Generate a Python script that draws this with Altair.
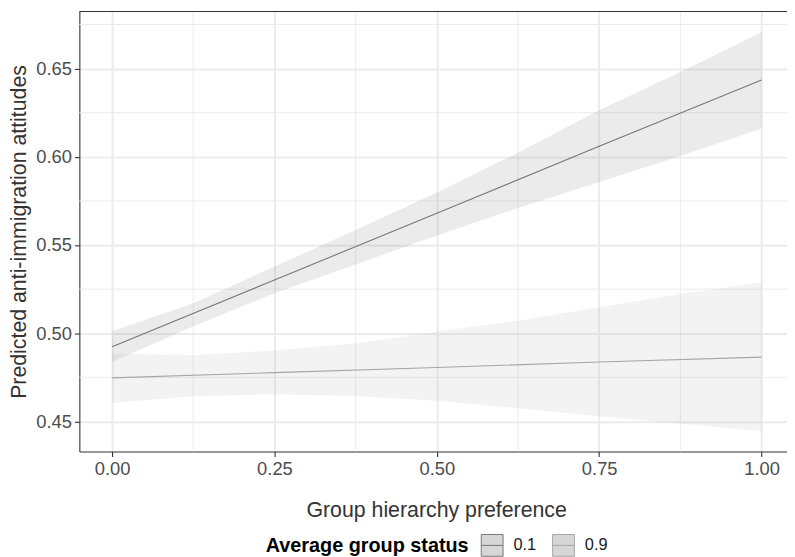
import altair as alt
import pandas as pd

# ---------------- data ----------------
status_levels = ["0.1", "0.9"]

# predicted lines (x = group hierarchy preference)
line_x = [0.0, 0.25, 0.5, 0.75, 1.0]
line_low_status = [0.4924, 0.5302, 0.5680, 0.6060, 0.6435]   # status 0.1
line_high_status = [0.4747, 0.4777, 0.4806, 0.4837, 0.4865]  # status 0.9

# confidence ribbons
band_x = [0.0, 0.125, 0.25, 0.375, 0.5, 0.625, 0.75, 0.875, 1.0]
band_low_status_lo = [0.4837, 0.5040, 0.5227, 0.5390, 0.5554, 0.5710, 0.5858, 0.6004, 0.6160]
band_low_status_hi = [0.5011, 0.5170, 0.5378, 0.5585, 0.5798, 0.6023, 0.6264, 0.6481, 0.6706]
band_high_status_lo = [0.4605, 0.4643, 0.4654, 0.4645, 0.4618, 0.4575, 0.4530, 0.4487, 0.4446]
band_high_status_hi = [0.4884, 0.4876, 0.4903, 0.4942, 0.5008, 0.5071, 0.5148, 0.5223, 0.5289]

x_major = [0.0, 0.25, 0.5, 0.75, 1.0]
x_minor = [0.125, 0.375, 0.625, 0.875]
y_major = [0.45, 0.50, 0.55, 0.60, 0.65]
y_minor = [0.475, 0.525, 0.575, 0.625, 0.675]

X_TITLE = "Group hierarchy preference"
Y_TITLE = "Predicted anti-immigration attitudes"
LEGEND_TITLE = "Average group status"

# ---------------- tables ----------------
lines_df = pd.DataFrame({
    "x": line_x * 2,
    "y": line_low_status + line_high_status,
    "status": [status_levels[0]] * len(line_x) + [status_levels[1]] * len(line_x),
})
band_low_df = pd.DataFrame({"x": band_x, "lo": band_low_status_lo, "hi": band_low_status_hi})
band_high_df = pd.DataFrame({"x": band_x, "lo": band_high_status_lo, "hi": band_high_status_hi})
xminor_df = pd.DataFrame({"v": x_minor})
yminor_df = pd.DataFrame({"v": y_minor})

W, H = 714, 444
FONT = "Liberation Sans"

xscale = alt.Scale(domain=[-0.0504, 1.0392], nice=False, zero=False)
yscale = alt.Scale(domain=[0.4330, 0.6824], nice=False, zero=False)

x_axis = alt.Axis(values=x_major, format=".2f", grid=True, labelFlush=False,
                  titleX=360, titleY=66, titleBaseline="alphabetic")
y_axis = alt.Axis(values=y_major, format=".2f", grid=True,
                  titleX=-54, titleY=222, titleAngle=270, titleAlign="center",
                  titleBaseline="alphabetic", labelPadding=3)

X = lambda f: alt.X(f, scale=xscale, axis=x_axis, title=X_TITLE)
Y = lambda f: alt.Y(f, scale=yscale, axis=y_axis, title=Y_TITLE)

minor_x = alt.Chart(xminor_df).mark_rule(color="#ebebeb", strokeWidth=1).encode(x=X("v:Q"))
minor_y = alt.Chart(yminor_df).mark_rule(color="#ebebeb", strokeWidth=1).encode(y=Y("v:Q"))

band_low = alt.Chart(band_low_df).mark_area(color="#808080", fillOpacity=0.157).encode(
    x=X("x:Q"), y=Y("lo:Q"), y2="hi:Q"
)
band_high = alt.Chart(band_high_df).mark_area(color="#b3b3b3", fillOpacity=0.157).encode(
    x=X("x:Q"), y=Y("lo:Q"), y2="hi:Q"
)

legend = alt.Legend(
    title=LEGEND_TITLE, orient="none", legendX=188, legendY=527, direction="horizontal",
    titleOrient="left", titlePadding=12, titleFont=FONT, titleFontSize=20,
    titleFontWeight="bold", titleColor="#000000", titleLimit=500,
    labelFont=FONT, labelFontSize=16.5, labelColor="#1a1a1a", labelOffset=10,
    columnPadding=14, padding=0,
    symbolType="M-1,-1H1V1H-1Z M-1,0H1", symbolSize=484, symbolStrokeWidth=1,
    symbolFillColor="#d6d6d6", symbolOpacity=1,
)

lines = alt.Chart(lines_df).mark_line(strokeWidth=1.1).encode(
    x=X("x:Q"),
    y=Y("y:Q"),
    stroke=alt.Stroke("status:N", scale=alt.Scale(domain=status_levels, range=["#777777", "#a6a6a6"]),
                      legend=legend),
)

top_border = alt.Chart(pd.DataFrame({"a": [0]})).mark_rule(color="#333333", strokeWidth=1.1).encode(
    x=alt.value(0), x2=alt.value(W), y=alt.value(0)
)

chart = alt.layer(minor_x, minor_y, band_low, band_high, lines, top_border).properties(
    width=W, height=H,
    padding={"left": 72, "top": 1, "right": 0, "bottom": 105},
    autosize=alt.AutoSizeParams(type="none"),
).configure_view(stroke=None).configure_axis(
    domainColor="#333333", domainWidth=1.1,
    tickColor="#333333", tickWidth=1.1, tickSize=5,
    labelFont=FONT, labelFontSize=18.5, labelColor="#4d4d4d", labelPadding=3.5,
    titleFont=FONT, titleFontSize=21.5, titleColor="#333333", titleFontWeight="normal",
    gridColor="#ebebeb", gridWidth=2,
)

chart.save("out.html", embed_options={"renderer": "svg", "actions": False})
